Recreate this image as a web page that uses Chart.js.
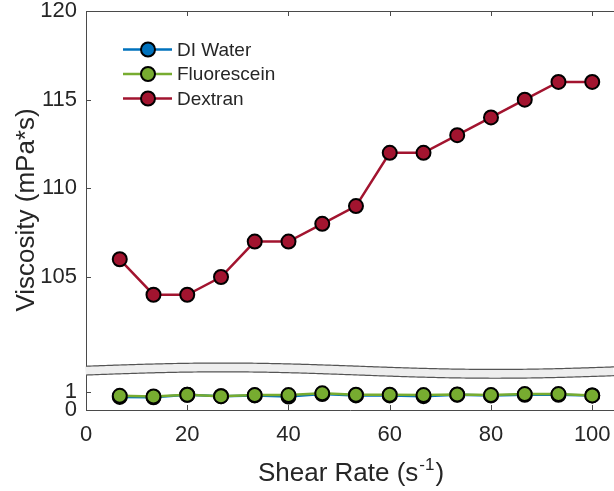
<!DOCTYPE html>
<html>
<head>
<meta charset="utf-8">
<script src="https://cdn.jsdelivr.net/npm/chart.js@4.4.1/dist/chart.umd.min.js"></script>
<style>
  html, body { margin: 0; padding: 0; background: #fff; overflow: hidden; }
  #wrap { width: 614px; height: 491px; }
</style>
</head>
<body>
<div id="wrap"><canvas id="viscosityChart" width="614" height="491"></canvas></div>
<script>
// shear rate sweep (s^-1) and measured viscosity (mPa*s)
const shearRate = [6.67, 13.33, 20, 26.67, 33.33, 40, 46.67, 53.33, 60, 66.67, 73.33, 80, 86.67, 93.33, 100];
const diWater = [0.74, 0.72, 0.86, 0.78, 0.82, 0.76, 0.90, 0.82, 0.82, 0.78, 0.86, 0.82, 0.86, 0.86, 0.82];
const fluorescein = [0.80, 0.76, 0.86, 0.78, 0.84, 0.84, 0.94, 0.86, 0.86, 0.84, 0.88, 0.84, 0.90, 0.90, 0.82];
const dextran = [106, 104, 104, 105, 107, 107, 108, 109, 112, 112, 113, 114, 115, 116, 116];

const xTicks = [0, 20, 40, 60, 80, 100];
const highTicks = [105, 110, 115, 120];
const lowTicks = [0, 1];

const FONT = "'Liberation Sans', Arial, Helvetica, sans-serif";
const TEXT = '#262626';
const AXIS = '#4a4a4a';

const toPoints = ys => shearRate.map((x, i) => ({ x: x, y: ys[i] }));

function series(label, values, color, axis, order) {
    return {
        label: label,
        data: toPoints(values),
        yAxisID: axis,
        order: order,
        borderColor: color,
        backgroundColor: color,
        borderWidth: 2.5,
        pointRadius: 7,
        pointBorderWidth: 2,
        pointBorderColor: '#000',
        pointBackgroundColor: color,
        tension: 0,
        clip: false
    };
}

// no extra room around the plot for half-labels
function noPadding(s) {
    s.paddingTop = 0;
    s.paddingBottom = 0;
    s.paddingLeft = 0;
    s.paddingRight = 0;
}

// inward tick marks, top box line, axis break, legend and axis titles
const axisDecor = {
    id: 'axisDecor',
    afterDraw(chart) {
        const { ctx, chartArea: a, scales } = chart;
        const xs = scales.x, hi = scales.yHigh, lo = scales.yLow;
        const seg = (x1, y1, x2, y2) => { ctx.beginPath(); ctx.moveTo(x1, y1); ctx.lineTo(x2, y2); ctx.stroke(); };

        ctx.save();
        ctx.strokeStyle = AXIS;
        ctx.lineWidth = 1;
        seg(a.left, a.top + 0.5, a.right, a.top + 0.5);
        xTicks.forEach(v => {
            const px = Math.round(xs.getPixelForValue(v)) + 0.5;
            seg(px, a.bottom, px, a.bottom - 5);
            seg(px, a.top, px, a.top + 5);
        });
        highTicks.forEach(v => {
            const py = Math.round(hi.getPixelForValue(v)) + 0.5;
            seg(a.left, py, a.left + 5, py);
        });
        lowTicks.forEach(v => {
            const py = Math.round(lo.getPixelForValue(v)) + 0.5;
            seg(a.left, py, a.left + 5, py);
        });

        // wavy break band between the two y ranges
        const mid = lo.getPixelForValue(2.22);
        const amp = 3.2, half = 4.4, period = 546;
        const wave = px => mid - amp * Math.sin(2 * Math.PI * (px - a.left) / period);
        const x0 = a.left - 1, x1 = a.right;
        ctx.beginPath();
        for (let px = x0; px <= x1; px += 2) ctx.lineTo(px, wave(px) - half);
        for (let px = x1; px >= x0; px -= 2) ctx.lineTo(px, wave(px) + half);
        ctx.closePath();
        ctx.fillStyle = '#eeeeee';
        ctx.fill();
        ctx.strokeStyle = '#555';
        ctx.lineWidth = 1.2;
        [-half, half].forEach(off => {
            ctx.beginPath();
            for (let px = a.left; px <= x1; px += 2) ctx.lineTo(px, wave(px) + off);
            ctx.stroke();
        });

        // legend: line with marker, then label
        const rows = [49.5, 74, 98.5];
        [0, 1, 2].forEach(i => {
            const ds = chart.data.datasets[i];
            const y = rows[i];
            ctx.strokeStyle = ds.borderColor;
            ctx.lineWidth = 2.5;
            seg(123, y, 172, y);
            ctx.beginPath();
            ctx.arc(148, y, 7, 0, Math.PI * 2);
            ctx.fillStyle = ds.backgroundColor;
            ctx.fill();
            ctx.strokeStyle = '#000';
            ctx.lineWidth = 2;
            ctx.stroke();
            ctx.fillStyle = TEXT;
            ctx.font = '19px ' + FONT;
            ctx.textAlign = 'left';
            ctx.textBaseline = 'middle';
            ctx.fillText(ds.label, 177, y + 1);
        });

        // y title
        ctx.save();
        ctx.translate(27, 210);
        ctx.rotate(-Math.PI / 2);
        ctx.font = '26px ' + FONT;
        ctx.fillStyle = TEXT;
        ctx.textAlign = 'center';
        ctx.textBaseline = 'middle';
        ctx.fillText('Viscosity (mPa*s)', 0, 0);
        ctx.restore();

        // x title with superscript exponent
        const main = '26px ' + FONT, sup = '17px ' + FONT;
        const p1 = 'Shear Rate (s', p2 = '-1', p3 = ')';
        ctx.font = main;
        const w1 = ctx.measureText(p1).width, w3 = ctx.measureText(p3).width;
        ctx.font = sup;
        const w2 = ctx.measureText(p2).width;
        let tx = (a.left + a.right) / 2 - (w1 + w2 + w3) / 2;
        const base = 481;
        ctx.fillStyle = TEXT;
        ctx.textAlign = 'left';
        ctx.textBaseline = 'alphabetic';
        ctx.font = main;
        ctx.fillText(p1, tx, base);
        tx += w1;
        ctx.font = sup;
        ctx.fillText(p2, tx + 1, base - 11);
        tx += w2 + 2;
        ctx.font = main;
        ctx.fillText(p3, tx, base);
        ctx.restore();
    }
};

const yCommon = {
    type: 'linear',
    position: 'left',
    stack: 'visc',
    grid: { display: false, drawTicks: false },
    border: { display: true, color: AXIS, width: 1 },
    ticks: { font: { family: FONT, size: 22 }, color: TEXT, padding: 9, autoSkip: false },
    afterFit: s => { s.width = 86; noPadding(s); }
};

new Chart(document.getElementById('viscosityChart').getContext('2d'), {
    type: 'line',
    data: {
        datasets: [
            series('DI Water', diWater, '#0072BD', 'yLow', 3),
            series('Fluorescein', fluorescein, '#77AC30', 'yLow', 2),
            series('Dextran', dextran, '#A2142F', 'yHigh', 1)
        ]
    },
    options: {
        responsive: false,
        animation: false,
        layout: { autoPadding: false, padding: { top: 11, right: 0, left: 0, bottom: 0 } },
        plugins: { legend: { display: false }, tooltip: { enabled: false } },
        scales: {
            x: {
                type: 'linear',
                min: 0,
                max: 104.3,
                grid: { display: false, drawTicks: false },
                border: { display: true, color: AXIS, width: 1 },
                ticks: { font: { family: FONT, size: 22 }, color: TEXT, padding: 12, autoSkip: false, maxRotation: 0 },
                afterBuildTicks: s => { s.ticks = xTicks.map(v => ({ value: v })); },
                afterFit: s => { s.height = 81; noPadding(s); }
            },
            yLow: Object.assign({}, yCommon, {
                min: 0,
                max: 2.5,
                stackWeight: 2.5,
                afterBuildTicks: s => { s.ticks = lowTicks.map(v => ({ value: v })); }
            }),
            yHigh: Object.assign({}, yCommon, {
                min: 100,
                max: 120,
                stackWeight: 20,
                afterBuildTicks: s => { s.ticks = highTicks.map(v => ({ value: v })); }
            })
        }
    },
    plugins: [axisDecor]
});
</script>
</body>
</html>
